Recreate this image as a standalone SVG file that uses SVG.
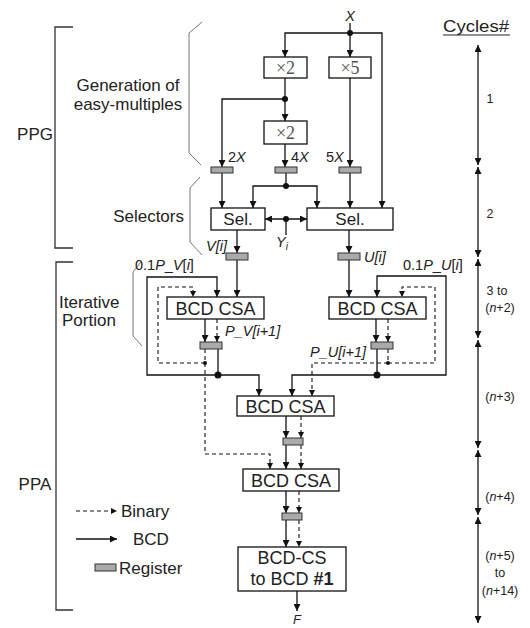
<svg xmlns="http://www.w3.org/2000/svg" width="530" height="628" viewBox="0 0 530 628">
<defs>
<marker id="ah" viewBox="0 0 10 10" refX="10" refY="5" markerWidth="9" markerHeight="7" markerUnits="userSpaceOnUse" orient="auto-start-reverse"><path d="M0,0 L10,5 L0,10 z" fill="#111"/></marker>
<marker id="ahd" viewBox="0 0 10 10" refX="10" refY="5" markerWidth="8" markerHeight="6" markerUnits="userSpaceOnUse" orient="auto-start-reverse"><path d="M0,0 L10,5 L0,10 z" fill="#111"/></marker>
</defs>
<style>
.ln{fill:none;stroke:#111;stroke-width:1.3}
.la{fill:none;stroke:#111;stroke-width:1.3;marker-end:url(#ah)}
.ds{fill:none;stroke:#111;stroke-width:1.1;stroke-dasharray:4 3}
.da{fill:none;stroke:#111;stroke-width:1.1;stroke-dasharray:4 3;marker-end:url(#ahd)}
.box{fill:#fff;stroke:#111;stroke-width:1.3}
.reg{fill:#aaa;stroke:#333;stroke-width:1}
.br{fill:none;stroke:#333;stroke-width:1.3}
.brc{fill:none;stroke:#777;stroke-width:1}
.dot{fill:#111}
text{font-family:"Liberation Sans",Arial,Helvetica,sans-serif;fill:#222}
.big{font-size:18px;text-anchor:middle}
.sel{font-size:17px;text-anchor:middle}
.lab{font-size:17px}
.sm{font-size:14.5px}
.cyc{font-size:12.5px;text-anchor:middle}
.mul{font-family:"Liberation Serif","Times New Roman",serif;font-size:18px;fill:#555;text-anchor:middle}
.it{font-style:italic}
</style>

<!-- side labels and braces -->
<g id="ppg-bracket">
<path class="br" d="M73,27 H55 V248 H73"/>
<text class="lab" x="35" y="140" text-anchor="middle">PPG</text>
</g>
<g id="ppa-bracket">
<path class="br" d="M73,262 H56 V610 H73"/>
<text class="lab" x="35" y="490" text-anchor="middle">PPA</text>
</g>
<g id="gen-brace">
<path class="brc" d="M202,22 L189,33 L189,153 L201,165"/>
<text class="lab" x="128" y="91" text-anchor="middle">Generation of</text>
<text class="lab" x="128" y="110" text-anchor="middle">easy-multiples</text>
</g>
<g id="sel-brace">
<path class="brc" d="M200,177 L190,188 L190,242 L202,255"/>
<text class="lab" x="184" y="222" text-anchor="end">Selectors</text>
</g>
<g id="iter-brace">
<path class="brc" d="M141,262 L133,272 L133,336 L142,346"/>
<text class="lab" x="59" y="308">Iterative</text>
<text class="lab" x="62" y="326">Portion</text>
</g>

<!-- connectors -->
<g id="connectors">
<path class="la" d="M350,23 V57"/>
<path class="la" d="M350,33 H285 V57"/>
<path class="la" d="M350,33 H382 V208"/>
<path class="la" d="M285,78 V121"/>
<path class="la" d="M285,99 H222 V167"/>
<path class="la" d="M285,144 V167"/>
<path class="la" d="M350,78 V167"/>
<path class="la" d="M222,173 V208"/>
<path class="ln" d="M286,173 V186"/>
<path class="la" d="M286,186 H253 V208"/>
<path class="la" d="M286,186 H317 V208"/>
<path class="la" d="M350,173 V208"/>
<path class="ln" d="M265,219 H307" style="marker-start:url(#ah);marker-end:url(#ah)"/>
<path class="ln" d="M286,219 V235"/>
<path class="la" d="M237,230 V253"/>
<path class="la" d="M237,260 V297"/>
<path class="la" d="M349,230 V253"/>
<path class="la" d="M349,260 V297"/>
<!-- left iterative -->
<path class="la" d="M205,319 V342"/>
<path class="da" d="M217,319 V342"/>
<path class="la" d="M218,349 V375 H147 V277 H217 V297"/>
<path class="la" d="M218,375 H259 V396"/>
<path class="da" d="M205,349 V363 H158 V287 H193 V297"/>
<path class="da" d="M205,363 V454 H270 V469"/>
<!-- right iterative -->
<path class="la" d="M376,319 V342"/>
<path class="da" d="M388,319 V342"/>
<path class="la" d="M377,349 V375 H446 V276 H377 V297"/>
<path class="la" d="M377,375 H292 V396"/>
<path class="da" d="M388,349 V363 H435 V287 H402 V297"/>
<path class="da" d="M388,363 H312 V396"/>
<!-- lower chain -->
<path class="la" d="M286,416 V438"/>
<path class="da" d="M301,416 V438"/>
<path class="la" d="M286,445 V469"/>
<path class="da" d="M301,445 V469"/>
<path class="la" d="M286,491 V513"/>
<path class="da" d="M299,491 V513"/>
<path class="la" d="M286,520 V547"/>
<path class="da" d="M299,520 V547"/>
<path class="la" d="M297,591 V611"/>
<!-- junction dots -->
<circle class="dot" cx="350" cy="33" r="3"/>
<circle class="dot" cx="285" cy="99" r="3"/>
<circle class="dot" cx="286" cy="186" r="3"/>
<circle class="dot" cx="286" cy="219" r="3"/>
<circle class="dot" cx="218" cy="375" r="3.5"/>
<circle class="dot" cx="377" cy="375" r="3.5"/>
<circle class="dot" cx="205" cy="363" r="2"/>
<circle class="dot" cx="388" cy="363" r="2"/>
</g>

<!-- nodes -->
<g id="x2a"><rect class="box" x="264" y="57" width="43" height="21"/><text class="mul" x="285.5" y="74">×2</text></g>
<g id="x5"><rect class="box" x="329" y="57" width="42" height="21"/><text class="mul" x="350" y="74">×5</text></g>
<g id="x2b"><rect class="box" x="264" y="121" width="43" height="23"/><text class="mul" x="285.5" y="139">×2</text></g>
<g id="reg2x"><rect class="reg" x="211" y="167" width="22" height="6"/></g>
<g id="reg4x"><rect class="reg" x="275" y="167" width="22" height="6"/></g>
<g id="reg5x"><rect class="reg" x="339" y="167" width="22" height="6"/></g>
<g id="sel-left"><rect class="box" x="211" y="208" width="54" height="22"/><text class="sel" x="238" y="225">Sel.</text></g>
<g id="sel-right"><rect class="box" x="307" y="208" width="86" height="22"/><text class="sel" x="350" y="225">Sel.</text></g>
<g id="regV"><rect class="reg" x="226" y="253" width="22" height="7"/></g>
<g id="regU"><rect class="reg" x="338" y="253" width="22" height="7"/></g>
<g id="csa-left"><rect class="box" x="167" y="297" width="97" height="22"/><text class="big" x="215.5" y="314.5">BCD CSA</text></g>
<g id="csa-right"><rect class="box" x="329" y="297" width="97" height="22"/><text class="big" x="377.5" y="314.5">BCD CSA</text></g>
<g id="regPV"><rect class="reg" x="200" y="342" width="22" height="7"/></g>
<g id="regPU"><rect class="reg" x="371" y="342" width="22" height="7"/></g>
<g id="csa-mid"><rect class="box" x="237" y="396" width="97" height="20"/><text class="big" x="285.5" y="412.5">BCD CSA</text></g>
<g id="reg-mid"><rect class="reg" x="283" y="438" width="20" height="7"/></g>
<g id="csa-low"><rect class="box" x="243" y="469" width="96" height="22"/><text class="big" x="291" y="486.5">BCD CSA</text></g>
<g id="reg-low"><rect class="reg" x="282" y="513" width="20" height="7"/></g>
<g id="conv"><rect class="box" x="238" y="547" width="108" height="44"/><text class="big" x="292" y="564">BCD-CS</text><text class="big" x="292" y="585">to BCD <tspan font-weight="bold">#1</tspan></text></g>

<!-- signal labels -->
<g id="labels">
<text class="sm it" x="350" y="21" text-anchor="middle">X</text>
<text class="sm" x="228" y="162">2<tspan class="it">X</tspan></text>
<text class="sm" x="291" y="162">4<tspan class="it">X</tspan></text>
<text class="sm" x="326" y="162">5<tspan class="it">X</tspan></text>
<text class="sm it" x="282" y="247" text-anchor="middle" fill="#444">Y<tspan font-size="10" dy="3">i</tspan></text>
<text class="sm it" x="227" y="251" text-anchor="end">V[i]</text>
<text class="sm it" x="364" y="262">U[i]</text>
<text class="sm" x="135" y="270">0.1<tspan class="it">P</tspan>_<tspan class="it">V</tspan>[<tspan class="it">i</tspan>]</text>
<text class="sm" x="403" y="270">0.1<tspan class="it">P</tspan>_<tspan class="it">U</tspan>[<tspan class="it">i</tspan>]</text>
<text class="sm it" x="225" y="336">P_V[i+1]</text>
<text class="sm it" x="310" y="357">P_U[i+1]</text>
<text class="it" x="297" y="624" font-size="13" text-anchor="middle">F</text>
</g>

<!-- legend -->
<g id="legend">
<path class="da" d="M76,511 H117"/>
<text class="lab" x="121" y="517">Binary</text>
<path class="la" d="M76,539 H117"/>
<text class="lab" x="133" y="545">BCD</text>
<rect class="reg" x="95" y="564" width="21" height="7"/>
<text class="lab" x="119" y="574">Register</text>
</g>

<!-- cycles axis -->
<g id="cycles">
<text x="476" y="32" font-size="16" text-anchor="middle" textLength="66" lengthAdjust="spacingAndGlyphs">Cycles#</text>
<line x1="443" y1="35" x2="510" y2="35" stroke="#222" stroke-width="1"/>
<path class="ln" d="M478,45 V165" style="marker-start:url(#ah);marker-end:url(#ah)"/>
<path class="ln" d="M478,167 V257" style="marker-start:url(#ah);marker-end:url(#ah)"/>
<path class="ln" d="M478,259 V338" style="marker-start:url(#ah);marker-end:url(#ah)"/>
<path class="ln" d="M478,340 V448" style="marker-start:url(#ah);marker-end:url(#ah)"/>
<path class="ln" d="M478,450 V515" style="marker-start:url(#ah);marker-end:url(#ah)"/>
<path class="ln" d="M478,517 V623" style="marker-start:url(#ah);marker-end:url(#ah)"/>
<text class="cyc" x="490" y="103">1</text>
<text class="cyc" x="490" y="218">2</text>
<text class="cyc" x="497" y="295">3 to</text>
<text class="cyc" x="500" y="312">(<tspan class="it">n</tspan>+2)</text>
<text class="cyc" x="500" y="401">(<tspan class="it">n</tspan>+3)</text>
<text class="cyc" x="500" y="501">(<tspan class="it">n</tspan>+4)</text>
<text class="cyc" x="500" y="560">(<tspan class="it">n</tspan>+5)</text>
<text class="cyc" x="500" y="577">to</text>
<text class="cyc" x="500" y="595">(<tspan class="it">n</tspan>+14)</text>
</g>
</svg>
